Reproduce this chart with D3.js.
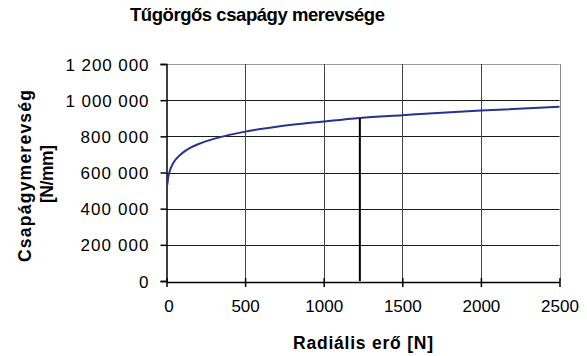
<!DOCTYPE html>
<html>
<head>
<meta charset="utf-8">
<script src="https://cdn.jsdelivr.net/npm/d3@7"></script>
<style>
  html, body { margin: 0; padding: 0; background: #fff; }
  svg text { font-family: "Liberation Sans", Arial, sans-serif; fill: #000; }
</style>
</head>
<body>
<svg id="chart" width="587" height="356"></svg>
<script>
// Radial load [N] and the needle roller bearing stiffness [N/mm]
const force = [5, 10, 20, 30, 50, 75, 100, 150, 200, 300, 400, 500, 700, 1000, 1230, 1500, 2000, 2500];
const stiffness = [531000, 567000, 606000, 630000, 662000, 688000, 707000, 736000, 756000, 786000, 808000, 826000, 853000, 882000, 902000, 917000, 943000, 963000];

// Operating point marked with a vertical line
const markerForce = [1230];
const markerStiffness = [902000];

const xTicks = [0, 500, 1000, 1500, 2000, 2500];
const yTicks = [0, 200000, 400000, 600000, 800000, 1000000, 1200000];
const yTickLabels = ["0", "200 000", "400 000", "600 000", "800 000", "1 000 000", "1 200 000"];

const titleText = "Tűgörgős csapágy merevsége";
const xTitle = "Radiális erő [N]";
const yTitle = ["Csapágymerevség", "[N/mm]"];

const svg = d3.select("#chart");
const m = { left: 166.5, right: 559.5, top: 64, bottom: 281 };

const x = d3.scaleLinear().domain([0, 2500]).range([m.left, m.right]);
const y = d3.scaleLinear().domain([0, 1200000]).range([m.bottom, m.top]);

// Gridlines
const grid = svg.append("g");
grid.selectAll("line.h").data(yTicks.slice(1)).join("line")
  .attr("x1", m.left).attr("x2", m.right)
  .attr("y1", d => Math.round(y(d)) + 0.5).attr("y2", d => Math.round(y(d)) + 0.5)
  .attr("stroke", d => d === 1200000 ? "#9a9a9a" : "#1a1a1a").attr("stroke-width", 1);
grid.selectAll("line.v").data(xTicks.slice(1)).join("line")
  .attr("y1", m.top).attr("y2", m.bottom)
  .attr("x1", d => Math.round(x(d)) + 0.5).attr("x2", d => Math.round(x(d)) + 0.5)
  .attr("stroke", d => d === 2500 ? "#8a8a8a" : "#444").attr("stroke-width", 1);

// Y axis
const yWidths = { "0": null, "200 000": 68, "400 000": 68, "600 000": 68, "800 000": 68, "1 000 000": 83, "1 200 000": 83 };
const yAxis = d3.axisLeft(y).tickValues(yTicks).tickSize(6).tickFormat((d, i) => yTickLabels[i]);
const gy = svg.append("g").attr("transform", `translate(${m.left},0)`).call(yAxis);
gy.select(".domain").attr("stroke", "#000").attr("stroke-width", 1.5);
gy.selectAll(".tick line").attr("stroke", "#000").attr("stroke-width", 1.5);
gy.selectAll(".tick text").attr("x", -18).attr("font-size", 17).attr("fill", "#000")
  .attr("dy", "0.36em")
  .each(function (d, i) {
    const w = yWidths[yTickLabels[i]];
    if (w) d3.select(this).attr("textLength", w).attr("lengthAdjust", "spacing");
  });

// X axis (ticks cross the axis line)
const xAxis = d3.axisBottom(x).tickValues(xTicks).tickSize(0).tickFormat(d3.format("d"));
const gx = svg.append("g").attr("transform", `translate(0,${m.bottom + 1})`).call(xAxis);
gx.select(".domain").attr("stroke", "#000").attr("stroke-width", 1.5);
gx.selectAll(".tick line").attr("y1", -4).attr("y2", 5).attr("stroke", "#000").attr("stroke-width", 1.5);
gx.selectAll(".tick text").attr("y", 25).attr("dy", "0.32em").attr("font-size", 17).attr("fill", "#000");
gx.selectAll(".tick text").filter(d => d === 0).attr("dx", 2);

// Stiffness curve
const line = d3.line().x((d, i) => x(force[i])).y((d, i) => y(stiffness[i])).curve(d3.curveMonotoneX);
svg.append("path").datum(stiffness).attr("d", line)
  .attr("fill", "none").attr("stroke", "#27318f").attr("stroke-width", 2);

// Operating point line
svg.selectAll("line.marker").data(markerForce).join("line")
  .attr("x1", d => x(d)).attr("x2", d => x(d))
  .attr("y1", y(0)).attr("y2", (d, i) => y(markerStiffness[i]))
  .attr("stroke", "#000").attr("stroke-width", 2);

// Titles
svg.append("text").attr("x", 257.5).attr("y", 20.5).attr("text-anchor", "middle")
  .attr("font-size", 18.5).attr("font-weight", "bold")
  .attr("textLength", 255).attr("lengthAdjust", "spacing").text(titleText);

svg.append("text").attr("x", 363).attr("y", 349).attr("text-anchor", "middle")
  .attr("font-size", 17.5).attr("font-weight", "bold")
  .attr("textLength", 140).attr("lengthAdjust", "spacing").text(xTitle);

const yt = svg.append("g").attr("transform", "translate(0,176) rotate(-90)");
yt.append("text").attr("x", 0).attr("y", 31).attr("text-anchor", "middle")
  .attr("font-size", 17.5).attr("font-weight", "bold")
  .attr("textLength", 172).attr("lengthAdjust", "spacing").text(yTitle[0]);
yt.append("text").attr("x", 2).attr("y", 53).attr("text-anchor", "middle")
  .attr("font-size", 17.5).attr("font-weight", "bold")
  .attr("textLength", 58).attr("lengthAdjust", "spacing").text(yTitle[1]);
</script>
</body>
</html>
